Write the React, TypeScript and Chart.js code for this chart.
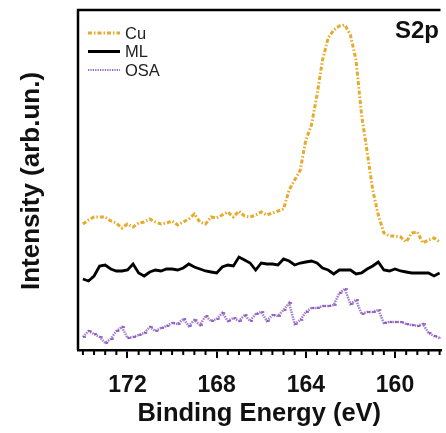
import React, { useEffect, useRef } from 'react';
import { Chart, registerables } from 'chart.js';

Chart.register(...registerables);

// Binding energy grid (eV)
const energies = [
  174.0, 173.75, 173.5, 173.25, 173.0, 172.75, 172.5, 172.25, 172.0, 171.75,
  171.5, 171.25, 171.0, 170.75, 170.5, 170.25, 170.0, 169.75, 169.5, 169.25,
  169.0, 168.75, 168.5, 168.25, 168.0, 167.75, 167.5, 167.25, 167.0, 166.75,
  166.5, 166.25, 166.0, 165.75, 165.5, 165.25, 165.0, 164.75, 164.5, 164.25,
  164.0, 163.75, 163.5, 163.25, 163.0, 162.75, 162.5, 162.25, 162.0, 161.75,
  161.5, 161.25, 161.0, 160.75, 160.5, 160.25, 160.0, 159.75, 159.5, 159.25,
  159.0, 158.75, 158.5, 158.25, 158.0,
];

const cuValues = [
  126, 130, 133, 133, 133, 129, 127, 122, 126, 123,
  127, 128, 131, 128, 126, 127, 129, 125, 128, 131,
  136, 128, 126, 133, 132, 135, 138, 133, 139, 134,
  133, 135, 138, 135, 137, 139, 141, 160, 170, 180,
  210, 225, 255, 290, 312, 320, 324, 325, 315, 290,
  235, 198, 160, 135, 117, 114, 114, 113, 108, 117,
  118, 107, 110, 112, 108,
];

const mlValues = [
  71, 69, 74, 84, 85, 81, 79, 79, 80, 86,
  77, 74, 78, 80, 79, 81, 81, 80, 82, 86,
  83, 81, 79, 78, 77, 83, 85, 84, 93, 90,
  87, 80, 87, 86, 86, 85, 91, 89, 85, 87,
  88, 89, 87, 82, 80, 76, 80, 80, 80, 76,
  77, 81, 84, 88, 80, 79, 81, 79, 78, 77,
  77, 77, 77, 74, 77,
];

const osaValues = [
  13, 19, 16, 13, 7, 11, 19, 23, 12, 13,
  15, 17, 23, 19, 22, 24, 27, 26, 31, 24,
  30, 25, 34, 29, 31, 37, 29, 32, 29, 35,
  29, 36, 38, 29, 35, 34, 40, 47, 26, 30,
  38, 42, 42, 44, 44, 45, 57, 61, 46, 50,
  36, 38, 38, 40, 27, 28, 28, 28, 26, 25,
  24, 26, 17, 14, 12,
];

const seriesNames = ['Cu', 'ML', 'OSA'];
const majorTicks = [172, 168, 164, 160];
const xTitle = 'Binding Energy (eV)';
const yTitle = 'Intensity (arb.un.)';
const panelLabel = 'S2p';

const FONT = '"Liberation Sans", Arial, Helvetica, sans-serif';

const toPoints = (vals: number[]) => vals.map((v, i) => ({ x: energies[i], y: v }));

const framePlugin = {
  id: 'framePlugin',
  afterDraw(chart: any) {
    const { ctx, chartArea } = chart;
    const xs = chart.scales.x;
    ctx.save();
    // left and top frame lines
    ctx.strokeStyle = '#000';
    ctx.lineWidth = 2.5;
    ctx.beginPath();
    ctx.moveTo(chartArea.left, chartArea.bottom);
    ctx.lineTo(chartArea.left, chartArea.top);
    ctx.lineTo(chartArea.right, chartArea.top);
    ctx.stroke();
    // minor ticks
    ctx.lineWidth = 2;
    xs.ticks.forEach((t: any) => {
      if (majorTicks.includes(t.value)) return;
      const px = xs.getPixelForValue(t.value);
      ctx.beginPath();
      ctx.moveTo(px, chartArea.bottom);
      ctx.lineTo(px, chartArea.bottom + 5);
      ctx.stroke();
    });
    // y title
    ctx.fillStyle = '#111';
    ctx.font = `bold 26px ${FONT}`;
    ctx.textAlign = 'center';
    ctx.textBaseline = 'middle';
    ctx.translate(32, (chartArea.top + chartArea.bottom) / 2 + 1);
    ctx.rotate(-Math.PI / 2);
    ctx.fillText(yTitle, 0, 0);
    ctx.restore();

    // panel label
    ctx.save();
    ctx.fillStyle = '#111';
    ctx.font = `bold 24px ${FONT}`;
    ctx.textAlign = 'left';
    ctx.textBaseline = 'alphabetic';
    ctx.fillText(panelLabel, 395, 38);
    ctx.restore();

    // legend
    ctx.save();
    const rows = [33, 51.5, 70];
    chart.data.datasets.forEach((ds: any, i: number) => {
      const y = rows[i];
      ctx.strokeStyle = ds.legendColor || ds.borderColor;
      ctx.lineWidth = ds.legendWidth;
      ctx.setLineDash(ds.legendDash || []);
      ctx.beginPath();
      ctx.moveTo(88, y);
      ctx.lineTo(120, y);
      ctx.stroke();
      ctx.setLineDash([]);
      ctx.fillStyle = '#222';
      ctx.font = `16.5px ${FONT}`;
      ctx.textAlign = 'left';
      ctx.textBaseline = 'middle';
      ctx.fillText(ds.label, 125, y + 1);
    });
    ctx.restore();
  },
};

export default function App() {
  const canvasRef = useRef<HTMLCanvasElement | null>(null);

  useEffect(() => {
    document.body.style.margin = '0';
    const canvas = canvasRef.current;
    if (!canvas) return;
    const chart = new Chart(canvas, {
      type: 'line',
      data: {
        datasets: [
          {
            label: seriesNames[0],
            data: toPoints(cuValues),
            borderColor: '#e6ab2c',
            borderWidth: 3,
            borderDash: [4, 2, 1.5, 2],
            legendDash: [4, 2, 1.5, 2],
            legendWidth: 3,
            pointRadius: 0,
            tension: 0,
          } as any,
          {
            label: seriesNames[1],
            data: toPoints(mlValues),
            borderColor: '#000000',
            borderWidth: 2.8,
            legendWidth: 3,
            pointRadius: 0,
            tension: 0,
          } as any,
          {
            label: seriesNames[2],
            data: toPoints(osaValues),
            borderColor: '#a47fd0',
            borderWidth: 2.5,
            borderDash: [1.5, 1],
            legendColor: '#9463c4',
            legendDash: [1.2, 1.2],
            legendWidth: 2,
            pointStyle: 'dash',
            pointRadius: 3,
            pointBorderColor: '#7e48b6',
            pointBorderWidth: 1.5,
            tension: 0,
          } as any,
        ],
      },
      options: {
        responsive: false,
        animation: false,
        devicePixelRatio: 1,
        layout: { padding: { left: 78, top: 10, right: 0, bottom: 0 } },
        plugins: { legend: { display: false }, tooltip: { enabled: false } },
        scales: {
          x: {
            type: 'linear',
            reverse: true,
            min: 157.96,
            max: 174.22,
            afterFit: (scale: any) => {
              scale.height = 83;
              scale.paddingLeft = 0;
              scale.paddingRight = 0;
            },
            border: { display: true, color: '#000', width: 2.5 },
            grid: {
              drawOnChartArea: false,
              drawTicks: true,
              tickLength: 8,
              lineWidth: 2,
              color: (c: any) =>
                c.tick && majorTicks.includes(c.tick.value) ? '#000' : 'rgba(0,0,0,0)',
            },
            ticks: {
              stepSize: 0.5,
              autoSkip: false,
              maxRotation: 0,
              includeBounds: false,
              padding: 14,
              color: '#111',
              font: { family: FONT, size: 23, weight: 'bold' },
              callback: (v: any) => (majorTicks.includes(Number(v)) ? String(v) : ''),
            },
            title: {
              display: true,
              text: xTitle,
              color: '#111',
              font: { family: FONT, size: 25.5, weight: 'bold' },
              padding: { top: 0, bottom: 4 },
            },
          },
          y: {
            display: false,
            min: 0,
            max: 340,
          },
        },
      } as any,
      plugins: [framePlugin],
    });
    return () => chart.destroy();
  }, []);

  return (
    <div style={{ position: 'absolute', left: 0, top: 0, width: 446, height: 433, background: '#fff' }}>
      <canvas ref={canvasRef} width={446} height={433} />
    </div>
  );
}
